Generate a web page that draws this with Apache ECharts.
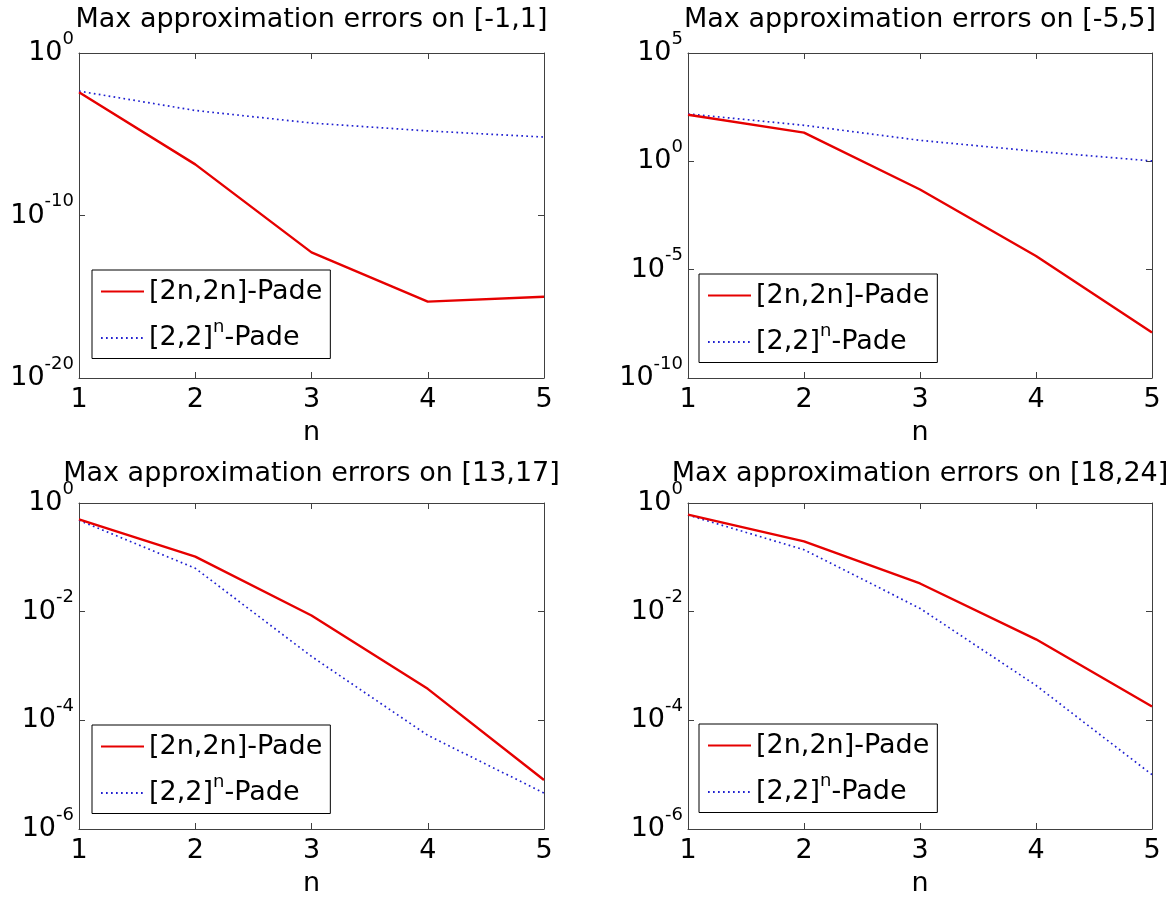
<!DOCTYPE html>
<html>
<head>
<meta charset="utf-8">
<title>Max approximation errors</title>
<script src="https://cdn.jsdelivr.net/npm/echarts@6/dist/echarts.min.js"></script>
<style>
  html, body { margin: 0; padding: 0; background: #ffffff; }
  #chart { width: 1171px; height: 898px; }
</style>
</head>
<body>
<div id="chart"></div>
<script>
// Orders n of the approximants
const nValues = [1, 2, 3, 4, 5];

// Maximum errors of the [2n,2n] Padé approximant and of the squared [2,2] approximant
const padeErrA = [3.9e-3, 1.4e-7, 5.4e-13, 5e-16, 1e-15];      // [-1,1]
const powErrA  = [4.5e-3, 2.9e-4, 4.9e-5, 1.6e-5, 6.7e-6];
const padeErrB = [141, 21, 0.05, 4.3e-5, 1.26e-8];             // [-5,5]
const powErrB  = [155, 46, 9.3, 2.9, 1.04];
const padeErrC = [0.5, 0.103, 8.5e-3, 3.8e-4, 8e-6];           // [13,17]
const powErrC  = [0.48, 0.063, 1.5e-3, 5.3e-5, 4.6e-6];
const padeErrD = [0.61, 0.196, 0.033, 3.1e-3, 1.8e-4];         // [18,24]
const powErrD  = [0.6, 0.138, 0.0115, 4.4e-4, 1e-5];

const panelTitles = [
  'Max approximation errors on [-1,1]',
  'Max approximation errors on [-5,5]',
  'Max approximation errors on [13,17]',
  'Max approximation errors on [18,24]'
];
// y-axis decades: [min exponent, max exponent, step]
const yDecades = [[-20, 0, 10], [-10, 5, 5], [-6, 0, 2], [-6, 0, 2]];
const xTicks = [1, 2, 3, 4, 5];
const seriesNames = ['[2n,2n]-Pade', '[2,2]^n-Pade'];

const panelData = [
  [padeErrA, powErrA],
  [padeErrB, powErrB],
  [padeErrC, powErrC],
  [padeErrD, powErrD]
];

const FONT = '"DejaVu Sans", "Liberation Sans", Arial, sans-serif';
const FRAME = '#404040';

const grids = [
  { left: 79,  top: 53,  width: 465, height: 325 },
  { left: 688, top: 53,  width: 464, height: 325 },
  { left: 79,  top: 503, width: 465, height: 326 },
  { left: 688, top: 503, width: 464, height: 326 }
];
const titleOffset = [33, 33, 29, 29];
const legendPos = [
  { left: 92,  top: 270 },
  { left: 699, top: 274 },
  { left: 92,  top: 725 },
  { left: 699, top: 724 }
];

function pair(xs, ys) {
  return xs.map((x, i) => [x, ys[i]]);
}

function expLabel(v) {
  const e = Math.round(Math.log10(v));
  return '{b|10}{e|' + e + '}';
}

const xAxes = [], yAxes = [], series = [], legends = [], graphics = [];

grids.forEach((g, i) => {
  const [lo, hi, step] = yDecades[i];
  const tickStyle = { show: true, inside: true, length: 6, lineStyle: { color: FRAME, width: 1 } };

  // bottom x axis with labels, top x axis as the upper frame
  xAxes.push({
    gridIndex: i, type: 'value', position: 'bottom',
    min: xTicks[0], max: xTicks[xTicks.length - 1], interval: 1,
    axisLine: { show: true, lineStyle: { color: FRAME, width: 1 } },
    axisTick: tickStyle,
    splitLine: { show: false },
    axisLabel: { show: true, fontFamily: FONT, fontSize: 27, color: '#000', margin: 8 },
    name: 'n', nameLocation: 'middle', nameGap: 41,
    nameTextStyle: { fontFamily: FONT, fontSize: 27, color: '#000' }
  });
  xAxes.push({
    gridIndex: i, type: 'value', position: 'top',
    min: xTicks[0], max: xTicks[xTicks.length - 1], interval: 1,
    axisLine: { show: true, lineStyle: { color: FRAME, width: 1 } },
    axisTick: tickStyle,
    splitLine: { show: false },
    axisLabel: { show: false }
  });

  // left log axis with 10^k labels, right log axis as the right frame
  yAxes.push({
    gridIndex: i, type: 'log', logBase: 10, position: 'left',
    min: Math.pow(10, lo), max: Math.pow(10, hi), interval: step,
    axisLine: { show: true, lineStyle: { color: FRAME, width: 1 } },
    axisTick: tickStyle,
    minorTick: { show: false },
    splitLine: { show: false },
    axisLabel: {
      show: true, margin: 5, showMinLabel: true, showMaxLabel: true,
      formatter: expLabel,
      rich: {
        b: { fontFamily: FONT, fontSize: 27, color: '#000', lineHeight: 46 },
        e: { fontFamily: FONT, fontSize: 18, color: '#000', lineHeight: 8, verticalAlign: 'top' }
      }
    }
  });
  yAxes.push({
    gridIndex: i, type: 'log', logBase: 10, position: 'right',
    min: Math.pow(10, lo), max: Math.pow(10, hi), interval: step,
    axisLine: { show: true, lineStyle: { color: FRAME, width: 1 } },
    axisTick: tickStyle,
    minorTick: { show: false },
    splitLine: { show: false },
    axisLabel: { show: false }
  });

  const [pade, pow] = panelData[i];
  series.push({
    name: seriesNames[0], type: 'line',
    xAxisIndex: 2 * i, yAxisIndex: 2 * i,
    data: pair(nValues, pade),
    symbol: 'none', animation: false, z: 3,
    lineStyle: { color: '#e60000', width: 2.4, type: 'solid' },
    itemStyle: { color: '#e60000' }
  });
  series.push({
    name: seriesNames[1], type: 'line',
    xAxisIndex: 2 * i, yAxisIndex: 2 * i,
    data: pair(nValues, pow),
    symbol: 'none', animation: false, z: 2,
    lineStyle: { color: '#2020d0', width: 1.7, type: [1.7, 3.3] },
    itemStyle: { color: '#2020d0' }
  });

  // legend: line samples only (the marker of the line icon is made invisible)
  legends.push({
    left: legendPos[i].left, top: legendPos[i].top,
    orient: 'vertical',
    data: seriesNames,
    selectedMode: false,
    backgroundColor: '#ffffff',
    borderColor: '#000000', borderWidth: 1, borderRadius: 0,
    padding: [8, 8, 7, 8],
    itemGap: 13, itemWidth: 43, itemHeight: 14,
    itemStyle: { opacity: 0, color: 'transparent', borderWidth: 0 },
    z: 10,
    formatter: function (name) {
      if (name.indexOf('^n') >= 0) {
        const parts = name.split('^n');
        return '{b|' + parts[0] + '}{s|n}{b|' + parts[1] + '}';
      }
      return '{b|' + name + '}';
    },
    textStyle: {
      color: '#000',
      rich: {
        b: { fontFamily: FONT, fontSize: 27, color: '#000', lineHeight: 40 },
        s: { fontFamily: FONT, fontSize: 18, color: '#000', lineHeight: 8, verticalAlign: 'top' }
      }
    }
  });

  graphics.push({
    type: 'text',
    x: g.left + g.width / 2,
    y: g.top - titleOffset[i],
    style: {
      text: panelTitles[i],
      font: '27px ' + FONT,
      fill: '#000',
      align: 'center',
      verticalAlign: 'middle'
    }
  });
});

const chart = echarts.init(document.getElementById('chart'), null, { renderer: 'canvas' });
chart.setOption({
  backgroundColor: '#ffffff',
  animation: false,
  grid: grids.map(g => Object.assign({ containLabel: false }, g)),
  xAxis: xAxes,
  yAxis: yAxes,
  legend: legends,
  series: series,
  graphic: graphics
});
</script>
</body>
</html>
